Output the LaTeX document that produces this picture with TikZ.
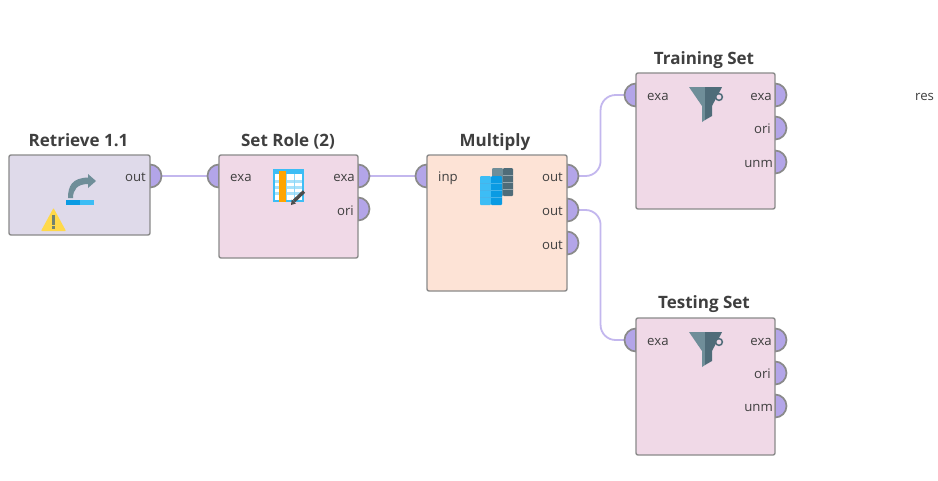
\documentclass[tikz,border=0pt]{standalone}
\usepackage{fontspec}
\setmainfont{Open Sans}
\usetikzlibrary{calc}
\definecolor{edgegray}{HTML}{8A8A8A}
\definecolor{portfill}{HTML}{B3A5E8}
\definecolor{wire}{HTML}{C3B7EE}
\definecolor{roxpink}{HTML}{F0D9E7}
\definecolor{roxlilac}{HTML}{DFDAEA}
\definecolor{roxpeach}{HTML}{FDE3D6}
\definecolor{txt}{HTML}{3F3F3F}
\definecolor{slateL}{HTML}{6F8E99}
\definecolor{slateD}{HTML}{4F6C79}
\definecolor{blueL}{HTML}{3DBDF5}
\definecolor{blueD}{HTML}{0A9BE3}
\definecolor{warnY}{HTML}{FFD94A}
\definecolor{roxor}{HTML}{FFA400}
\tikzset{
  opbox/.style={draw=edgegray,line width=1.4pt,rounded corners=2pt,inner sep=0pt,outer sep=0pt,anchor=north west},
  optitle/.style={font=\fontsize{17}{19}\selectfont\bfseries,text=txt,inner sep=0pt,anchor=base},
  portlabel/.style={font=\fontsize{13.2}{15}\selectfont,text=txt,inner sep=0pt,anchor=base},
  portshape/.style={fill=portfill,draw=edgegray,line width=1.7pt},
  wireline/.style={draw=wire,line width=1.8pt},
}
% \outport{name}{x}{y}: half disc on the right of a box edge; (name) is its tip
\newcommand{\outport}[3]{%
  \draw[portshape] (#2,#3-11.5) arc[start angle=90,end angle=-90,radius=11.5pt] -- cycle;
  \coordinate (#1) at (#2+11.5,#3);}
\newcommand{\inport}[3]{%
  \draw[portshape] (#2,#3-11.5) arc[start angle=90,end angle=270,radius=11.5pt] -- cycle;
  \coordinate (#1) at (#2-11.5,#3);}
\newcommand{\funnelicon}[2]{%
  \begin{scope}[shift={(#1,#2)}]
    \fill[slateL] (0,0) -- (16,0) -- (16,33) -- (13,35) -- (13,19) -- cycle;
    \fill[slateD] (16,0) -- (33,0) -- (31,4) -- (23,19) -- (23,29) -- (16,33) -- cycle;
    \draw[slateD,line width=1.5pt,fill=roxpink] (30,10) circle[radius=3.4pt];
  \end{scope}}
\begin{document}
\begin{tikzpicture}[x=1pt,y=-1pt]
\useasboundingbox (0,0) rectangle (938,480);
\fill[white] (0,0) rectangle (938,480);

% wires first
\coordinate (rout) at (161.5,176);
\coordinate (sin) at (207.5,176);
\coordinate (sout) at (369.5,176);
\coordinate (min) at (415.5,176);
\coordinate (mo1w) at (578.5,176);
\coordinate (mo2w) at (578.5,210);
\coordinate (trw) at (624.5,95);
\coordinate (tew) at (624.5,340);
\draw[wireline] (rout) -- (sin);
\draw[wireline] (sout) -- (min);
\draw[wireline,rounded corners=15pt] (mo1w) -| ($(mo1w)!0.48!(trw)$) |- (trw);
\draw[wireline,rounded corners=15pt] (mo2w) -| ($(mo2w)!0.48!(tew)$) |- (tew);

% ports under the boxes
\outport{prout}{150}{176}
\inport{psin}{219}{176}
\outport{psout}{358}{176}
\outport{psori}{358}{209}
\inport{pmin}{427}{176}
\outport{pmo1}{567}{176}
\outport{pmo2}{567}{210}
\outport{pmo3}{567}{243}
\inport{ptrin}{636}{95}
\outport{ptro1}{775}{95}
\outport{ptro2}{775}{128}
\outport{ptro3}{775}{162}
\inport{ptein}{636}{340}
\outport{pteo1}{775}{340}
\outport{pteo2}{775}{373}
\outport{pteo3}{775}{406}

% boxes
\node[opbox,fill=roxlilac,minimum width=141pt,minimum height=80pt] (retrieve) at (9,155) {};
\node[opbox,fill=roxpink,minimum width=139pt,minimum height=103pt] (setrole) at (219,155) {};
\node[opbox,fill=roxpeach,minimum width=140pt,minimum height=136pt] (multiply) at (427,155) {};
\node[opbox,fill=roxpink,minimum width=139pt,minimum height=136pt] (training) at (636,73) {};
\node[opbox,fill=roxpink,minimum width=139pt,minimum height=137pt] (testing) at (636,318) {};

% titles
\node[optitle] (t1) at (78.5,146) {Retrieve 1.1};
\node[optitle] (t2) at (288,146) {Set Role (2)};
\node[optitle] (t3) at (495,146) {Multiply};
\node[optitle] (t4) at (704,64) {Training Set};
\node[optitle] (t5) at (704,308) {Testing Set};

% port labels
\node[portlabel,anchor=base east] (l1) at (146,181) {out};
\node[portlabel,anchor=base west] (l2) at (230,181) {exa};
\node[portlabel,anchor=base east] (l3) at (355,181) {exa};
\node[portlabel,anchor=base east] (l4) at (354,215) {ori};
\node[portlabel,anchor=base west] (l5) at (438,181) {inp};
\node[portlabel,anchor=base east] (l6) at (563,181) {out};
\node[portlabel,anchor=base east] (l7) at (563,215) {out};
\node[portlabel,anchor=base east] (l8) at (563,249) {out};
\node[portlabel,anchor=base west] (l9) at (647,100) {exa};
\node[portlabel,anchor=base east] (l10) at (772,100) {exa};
\node[portlabel,anchor=base east] (l11) at (771,133) {ori};
\node[portlabel,anchor=base east] (l12) at (773,167) {unm};
\node[portlabel,anchor=base west] (l13) at (647,345) {exa};
\node[portlabel,anchor=base east] (l14) at (772,345) {exa};
\node[portlabel,anchor=base east] (l15) at (771,378) {ori};
\node[portlabel,anchor=base east] (l16) at (773,411) {unm};
\node[portlabel,anchor=base west] (l17) at (915,100) {res};

% retrieve icon
\fill[slateL] (68,198) .. controls (68,186) and (72,178) .. (88,177.5) -- (88,174) -- (96,181) -- (88,188) -- (88,184) .. controls (77,184) and (73,190) .. (73,198) -- cycle;
\fill[blueD] (66,200) rectangle (80,205);
\fill[blueL] (80,200) rectangle (93.5,205);
% warning icon
\fill[warnY,rounded corners=0.8pt] (53.5,208) -- (66,231) -- (41,231) -- cycle;
\fill[slateD!80!warnY] (52.3,215) rectangle (54.7,224.5);
\fill[slateD!80!warnY] (52.3,226) rectangle (54.7,228.5);

% set role icon
\fill[blueL] (273,169) rectangle (304,202);
\fill[white] (275,174) rectangle (302,200);
\foreach \yy in {179.5,185.5,191.5}{\fill[blueL!45] (275,\yy) rectangle (302,\yy+3.5);}
\foreach \xx in {286,294}{\fill[blueL!60] (\xx,174) rectangle (\xx+1.2,200);}
\fill[roxor] (279,171) rectangle (286,202);
\draw[black!70,line width=3.4pt] (294,201) -- (304,191.5);
\fill[black!70] (291,205) -- (291.7,199.5) -- (296,203.5) -- cycle;

% multiply icon
\fill[slateL,rounded corners=1pt] (492,168) rectangle (503,196);
\fill[slateD,rounded corners=1pt] (503,168) rectangle (513,196);
\foreach \yy in {175,182,189}{\fill[white!40!slateD] (503,\yy) rectangle (513,\yy+0.7);}
\fill[blueL,rounded corners=1pt] (480,176) rectangle (491,205);
\fill[blueD,rounded corners=1pt] (491,176) rectangle (502,205);
\foreach \yy in {183,190,197}{\draw[white!25!blueD,line width=0.8pt] (480,\yy) -- (502,\yy);}

% filter icons
\funnelicon{689}{87}
\funnelicon{689}{332}
\end{tikzpicture}
\end{document}
